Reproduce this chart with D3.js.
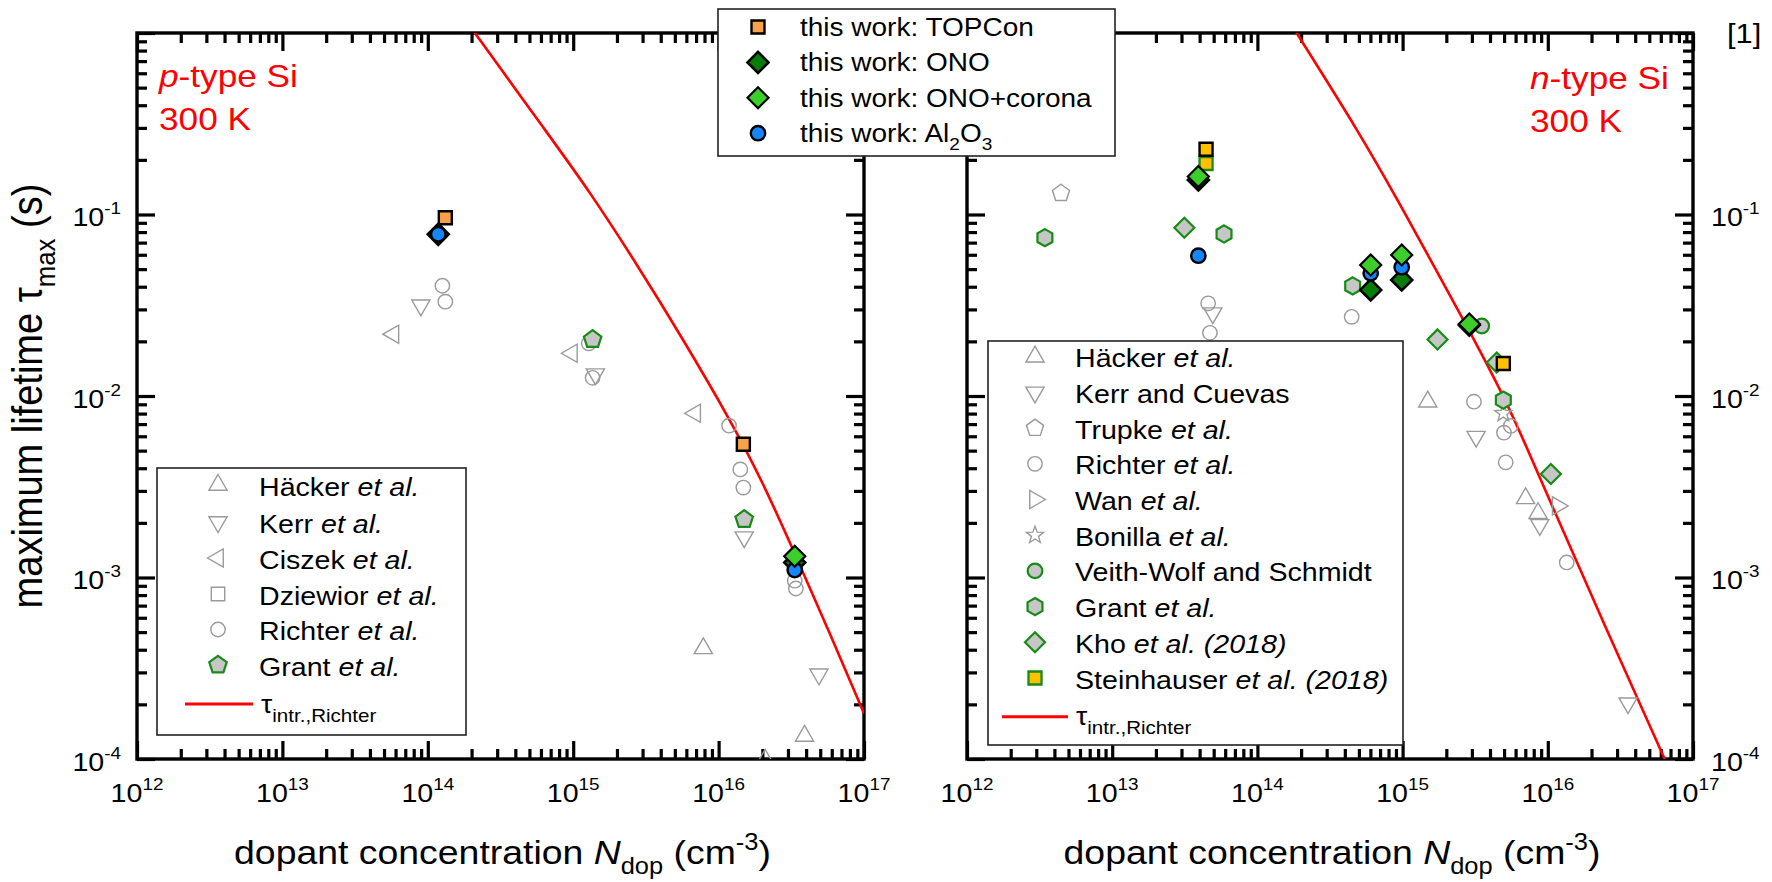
<!DOCTYPE html>
<html><head><meta charset="utf-8">
<script src="https://cdn.jsdelivr.net/npm/d3@7"></script>
<style>
html,body{margin:0;padding:0;background:#fff;}
svg{display:block;font-family:"Liberation Sans",Arial,Helvetica,sans-serif;}
</style></head><body>
<svg id="chart" width="1772" height="882"></svg>
<script>
// ---------- p-type Si, 300 K (left panel) ----------
const pHackerN   = [7.85e15, 3.90e16, 2.09e16];
const pHackerTau = [4.07e-4, 1.34e-4, 0.99e-4];
const pKerrN     = [8.96e13, 1.42e15, 1.50e16, 4.90e16];
const pKerrTau   = [0.0316, 0.0132, 0.00167, 2.93e-4];
const pCiszekN   = [5.80e13, 9.80e14, 6.90e15];
const pCiszekTau = [0.0219, 0.0172, 0.00803];
const pRichterN  = [1.26e14, 1.32e14, 1.28e15, 1.36e15, 1.18e16, 1.41e16, 1.48e16, 3.34e16, 3.40e16];
const pRichterTau= [0.0405, 0.0331, 0.0195, 0.0126, 0.00686, 0.00394, 0.00313, 0.00096, 0.00087];
const pGrantN    = [1.36e15, 1.50e16];
const pGrantTau  = [0.0205, 0.00209];
const pTopconN   = [1.32e14, 1.48e16];
const pTopconTau = [0.096, 0.00542];
const pOnoN      = [1.18e14, 3.34e16];
const pOnoTau    = [0.0778, 0.00121];
const pCoronaN   = [3.34e16];
const pCoronaTau = [0.00131];
const pAloxN     = [1.18e14, 3.34e16];
const pAloxTau   = [0.0778, 0.0011];
// intrinsic lifetime limit (Richter parameterisation), p-type
const pIntrN     = [2.0e14, 6.61e14, 1.29e15, 2.82e15, 5.62e15, 1.20e16, 2.0e16, 3.31e16, 5.62e16, 1.0e17];
const pIntrTau   = [1.06, 0.282, 0.135, 0.0513, 0.0209, 0.00741, 0.00339, 0.00138, 5.25e-4, 1.78e-4];

// ---------- n-type Si, 300 K (right panel) ----------
const nHackerN   = [1.49e15, 7.03e15, 8.57e15];
const nHackerTau = [0.0093, 0.00273, 0.00226];
const nKerrN     = [4.93e13, 3.21e15, 8.81e15, 3.57e16];
const nKerrTau   = [0.0286, 0.00597, 0.00195, 2.03e-4];
const nTrupkeN   = [4.44e12];
const nTrupkeTau = [0.131];
const nRichterN  = [4.58e13, 4.71e13, 4.46e14, 3.10e15, 5.56e15, 4.99e15, 5.13e15, 1.35e16];
const nRichterTau= [0.0324, 0.0223, 0.0273, 0.0093, 0.00684, 0.00628, 0.00431, 0.00121];
const nWanN      = [1.17e16];
const nWanTau    = [0.00248];
const nBonillaN  = [4.94e15];
const nBonillaTau= [0.00803];
const nVeithN    = [3.51e15];
const nVeithTau  = [0.0243];
const nGrantN    = [3.44e12, 5.89e13, 4.53e14, 4.94e15];
const nGrantTau  = [0.0745, 0.0781, 0.0404, 0.0095];
const nKhoN      = [3.14e13, 1.74e15, 4.45e15, 1.05e16];
const nKhoTau    = [0.0846, 0.0205, 0.0153, 0.00372];
const nSteinN    = [4.43e13];
const nSteinTau  = [0.191];
const nTopconN   = [4.43e13, 4.94e15];
const nTopconTau = [0.229, 0.0151];
const nOnoN      = [3.92e13, 6.03e14, 9.86e14, 2.88e15];
const nOnoTau    = [0.155, 0.0384, 0.0436, 0.0246];
const nCoronaN   = [3.92e13, 6.03e14, 9.86e14, 2.88e15];
const nCoronaTau = [0.162, 0.0527, 0.0598, 0.0249];
const nAloxN     = [3.92e13, 6.03e14, 9.86e14];
const nAloxTau   = [0.0593, 0.0474, 0.0512];
// intrinsic lifetime limit (Richter parameterisation), n-type
const nIntrN     = [1.82e14, 5.14e14, 9.25e14, 1.66e15, 2.88e15, 4.97e15, 7.23e15, 1.05e16, 2.48e16, 6.31e16, 7.08e16];
const nIntrTau   = [1.03, 0.275, 0.120, 0.0513, 0.0229, 0.0100, 0.00513, 0.00257, 5.37e-4, 1.02e-4, 8.3e-5];

// ---------- axes ----------
const xDecades = [1e12, 1e13, 1e14, 1e15, 1e16, 1e17];
const xExponents = ["12", "13", "14", "15", "16", "17"];
const yDecadesLabelled = [1e-1, 1e-2, 1e-3, 1e-4];
const yExponents = ["-1", "-2", "-3", "-4"];

// ---------- legend texts ----------
const topLegendLabels = [
  ["this work: TOPCon"],
  ["this work: ONO"],
  ["this work: ONO+corona"],
  ["this work: Al", {t:"2", sub:true}, "O", {t:"3", sub:true}]
];
const pLegendLabels = [
  ["Häcker ", {t:"et al.", it:true}],
  ["Kerr ", {t:"et al.", it:true}],
  ["Ciszek ", {t:"et al.", it:true}],
  ["Dziewior ", {t:"et al.", it:true}],
  ["Richter ", {t:"et al.", it:true}],
  ["Grant ", {t:"et al.", it:true}]
];
const nLegendLabels = [
  ["Häcker ", {t:"et al.", it:true}],
  ["Kerr and Cuevas"],
  ["Trupke ", {t:"et al.", it:true}],
  ["Richter ", {t:"et al.", it:true}],
  ["Wan ", {t:"et al.", it:true}],
  ["Bonilla ", {t:"et al.", it:true}],
  ["Veith-Wolf and Schmidt"],
  ["Grant ", {t:"et al.", it:true}],
  ["Kho ", {t:"et al. (2018)", it:true}],
  ["Steinhauser ", {t:"et al. (2018)", it:true}]
];

// ---------- drawing ----------
const SX = 1.1;                 // horizontal glyph stretch of the typeface
const svg = d3.select("#chart");
const yTop = 33, yBot = 759;
const y = d3.scaleLog().domain([1e-4, 1]).range([yBot, yTop]);
const xP = d3.scaleLog().domain([1e12, 1e17]).range([137, 864]);
const xN = d3.scaleLog().domain([1e12, 1e17]).range([967, 1693]);

function addText(parent, x, yy, parts, o) {
  const size = o.size, sx = o.sx ?? SX;
  let tr = `translate(${x},${yy})`;
  tr += o.rot ? ` rotate(${o.rot}) scale(1,${sx})` : ` scale(${sx},1)`;
  const t = parent.append("text").attr("transform", tr)
    .attr("font-size", size).attr("text-anchor", o.anchor || "start")
    .attr("fill", o.fill || "#000");
  let shift = 0;
  parts.forEach(p => {
    if (typeof p === "string") p = {t: p};
    const target = p.sub ? size * (o.subDy ?? 0.3) : p.sup ? -size * (o.supDy ?? 0.45) : 0;
    const ts = t.append("tspan").text(p.t).attr("dy", target - shift);
    shift = target;
    if (p.sub || p.sup) ts.attr("font-size", size * (o.small ?? 0.68));
    if (p.it) ts.attr("font-style", "italic");
  });
  return t;
}

// marker shapes as d3 symbol types (size = radius^2)
const poly = (n, rot) => ({draw(ctx, size) {
  const r = Math.sqrt(size);
  for (let i = 0; i < n; i++) {
    const a = rot + i * 2 * Math.PI / n;
    i ? ctx.lineTo(r * Math.cos(a), r * Math.sin(a)) : ctx.moveTo(r * Math.cos(a), r * Math.sin(a));
  }
  ctx.closePath();
}});
const ring = {draw(ctx, size) { const r = Math.sqrt(size); ctx.moveTo(r, 0); ctx.arc(0, 0, r, 0, 2 * Math.PI); ctx.closePath(); }};
const star = {draw(ctx, size) {
  const R = Math.sqrt(size), ri = R * 0.42;
  for (let i = 0; i < 10; i++) {
    const a = -Math.PI / 2 + i * Math.PI / 5, rr = i % 2 ? ri : R;
    i ? ctx.lineTo(rr * Math.cos(a), rr * Math.sin(a)) : ctx.moveTo(rr * Math.cos(a), rr * Math.sin(a));
  }
  ctx.closePath();
}};
const PI = Math.PI;
const shapes = {
  up: poly(3, -PI/2), down: poly(3, PI/2), left: poly(3, PI), right: poly(3, 0),
  square: poly(4, -PI/4), diamond: poly(4, -PI/2), pentagon: poly(5, -PI/2),
  hexagon: poly(6, -PI/2), circle: ring, star: star
};
const GRAY = "#9a9a9a", GREEN = "#168c16", GFILL = "#c6c6c6";
const styles = {
  hacker:  {shape:"up", r:10.5, fill:"none", stroke:GRAY, sw:1.4},
  kerr:    {shape:"down", r:10.5, fill:"none", stroke:GRAY, sw:1.4},
  ciszek:  {shape:"left", r:10.5, fill:"none", stroke:GRAY, sw:1.4},
  dziewior:{shape:"square", r:9.5, fill:"none", stroke:GRAY, sw:1.4},
  richter: {shape:"circle", r:7.2, fill:"none", stroke:GRAY, sw:1.4},
  trupke:  {shape:"pentagon", r:9, fill:"none", stroke:GRAY, sw:1.4},
  wan:     {shape:"right", r:10.5, fill:"none", stroke:GRAY, sw:1.4},
  bonilla: {shape:"star", r:9, fill:"none", stroke:GRAY, sw:1.4},
  grantP:  {shape:"pentagon", r:9.2, fill:GFILL, stroke:GREEN, sw:2.2},
  grantN:  {shape:"hexagon", r:8.6, fill:GFILL, stroke:GREEN, sw:2.2},
  veith:   {shape:"circle", r:7.3, fill:GFILL, stroke:GREEN, sw:2.2},
  kho:     {shape:"diamond", r:10, fill:GFILL, stroke:GREEN, sw:2.2},
  stein:   {shape:"square", r:9.2, fill:"#ffc000", stroke:GREEN, sw:2.3},
  topconP: {shape:"square", r:9.2, fill:"#f9a04b", stroke:"#000", sw:2.4},
  topconN: {shape:"square", r:9.2, fill:"#ffc000", stroke:"#000", sw:2.4},
  ono:     {shape:"diamond", r:10.5, fill:"#077d07", stroke:"#000", sw:2.6},
  corona:  {shape:"diamond", r:10.5, fill:"#3ccf2c", stroke:"#000", sw:2.2},
  alox:    {shape:"circle", r:7.2, fill:"#1586ff", stroke:"#000", sw:2.4}
};
function marker(g, st, cx, cy) {
  return g.append("path")
    .attr("transform", `translate(${cx},${cy})`)
    .attr("d", d3.symbol(shapes[st.shape], st.r * st.r)())
    .attr("fill", st.fill).attr("stroke", st.stroke).attr("stroke-width", st.sw)
    .attr("stroke-linejoin", "miter");
}
function series(g, x, Ns, Ts, st) {
  d3.zip(Ns, Ts).forEach(d => marker(g, st, x(d[0]), y(d[1])));
}

const isDecade = v => Math.abs(Math.log10(v) - Math.round(Math.log10(v))) < 1e-6;

function panel(id, x) {
  const [x0, x1] = x.range();
  const g = svg.append("g");
  g.append("clipPath").attr("id", "clip-" + id)
    .append("rect").attr("x", x0).attr("y", yTop).attr("width", x1 - x0).attr("height", yBot - yTop);

  const xMinor = x.ticks().filter(v => !isDecade(v));
  const yMinor = y.ticks().filter(v => !isDecade(v));
  const yMajor = y.ticks().filter(isDecade);
  const axes = [
    [d3.axisBottom(x), `translate(0,${yBot})`, xDecades, xMinor],
    [d3.axisTop(x), `translate(0,${yTop})`, xDecades, xMinor],
    [d3.axisLeft(y), `translate(${x0},0)`, yMajor, yMinor],
    [d3.axisRight(y), `translate(${x1},0)`, yMajor, yMinor]
  ];
  axes.forEach(([ax, tr, major, minor]) => {
    [[major, -18], [minor, -10]].forEach(([vals, len]) => {
      const a = g.append("g").attr("transform", tr)
        .call(ax.tickValues(vals).tickSize(len).tickSizeOuter(0).tickFormat(""));
      a.select(".domain").remove();
      a.selectAll(".tick line").attr("stroke", "#000").attr("stroke-width", 3.2);
    });
  });
  g.append("rect").attr("x", x0).attr("y", yTop).attr("width", x1 - x0).attr("height", yBot - yTop)
    .attr("fill", "none").attr("stroke", "#000").attr("stroke-width", 3.4);

  // tick labels
  xDecades.forEach((v, i) => addText(g, x(v), 802, ["10", {t: xExponents[i], sup: true}],
    {size: 26, anchor: "middle", supDy: 0.46, small: 0.66}));
  yDecadesLabelled.forEach((v, i) => {
    const lx = id === "p" ? x0 - 16 : x1 + 18;
    addText(g, lx, y(v) + 11.5, ["10", {t: yExponents[i], sup: true}],
      {size: 26, anchor: id === "p" ? "end" : "start", supDy: 0.46, small: 0.66});
  });

  // x axis title
  addText(g, (x0 + x1) / 2 + 2, 864, ["dopant concentration ", {t: "N", it: true}, {t: "dop", sub: true},
    " (cm", {t: "-3", sup: true}, ")"], {size: 34, anchor: "middle", subDy: 0.3, supDy: 0.42});

  const data = g.append("g").attr("clip-path", `url(#clip-${id})`);
  return data;
}

const intrLine = x => d3.line().x(d => x(d[0])).y(d => y(d[1])).curve(d3.curveBasis);

// ---------- left panel ----------
const gp = panel("p", xP);
gp.append("path").datum(d3.zip(pIntrN, pIntrTau)).attr("d", intrLine(xP))
  .attr("fill", "none").attr("stroke", "#ff0000").attr("stroke-width", 2.6);
series(gp, xP, pHackerN, pHackerTau, styles.hacker);
series(gp, xP, pKerrN, pKerrTau, styles.kerr);
series(gp, xP, pCiszekN, pCiszekTau, styles.ciszek);
series(gp, xP, pRichterN, pRichterTau, styles.richter);
series(gp, xP, pGrantN, pGrantTau, styles.grantP);
series(gp, xP, pOnoN, pOnoTau, styles.ono);
series(gp, xP, pAloxN, pAloxTau, styles.alox);
series(gp, xP, pCoronaN, pCoronaTau, styles.corona);
series(gp, xP, pTopconN, pTopconTau, styles.topconP);

// ---------- right panel ----------
const gn = panel("n", xN);
gn.append("path").datum(d3.zip(nIntrN, nIntrTau)).attr("d", intrLine(xN))
  .attr("fill", "none").attr("stroke", "#ff0000").attr("stroke-width", 2.6);
series(gn, xN, nHackerN, nHackerTau, styles.hacker);
series(gn, xN, nKerrN, nKerrTau, styles.kerr);
series(gn, xN, nTrupkeN, nTrupkeTau, styles.trupke);
series(gn, xN, nRichterN, nRichterTau, styles.richter);
series(gn, xN, nWanN, nWanTau, styles.wan);
series(gn, xN, nBonillaN, nBonillaTau, styles.bonilla);
series(gn, xN, nVeithN, nVeithTau, styles.veith);
series(gn, xN, nGrantN, nGrantTau, styles.grantN);
series(gn, xN, nKhoN, nKhoTau, styles.kho);
series(gn, xN, nSteinN, nSteinTau, styles.stein);
series(gn, xN, nOnoN, nOnoTau, styles.ono);
series(gn, xN, nAloxN, nAloxTau, styles.alox);
series(gn, xN, nCoronaN, nCoronaTau, styles.corona);
series(gn, xN, nTopconN, nTopconTau, styles.topconN);

// ---------- panel annotations ----------
addText(svg, 159, 87, [{t: "p", it: true}, "-type Si"], {size: 32, fill: "#ff0000"});
addText(svg, 159, 130, ["300 K"], {size: 32, fill: "#ff0000"});
addText(svg, 1530, 89, [{t: "n", it: true}, "-type Si"], {size: 32, fill: "#ff0000"});
addText(svg, 1530, 132, ["300 K"], {size: 32, fill: "#ff0000"});
addText(svg, 1727, 43, ["[1]"], {size: 28});

// y axis title
addText(svg, 42, 396, ["maximum lifetime τ", {t: "max", sub: true}, " (s)"],
  {size: 38, anchor: "middle", rot: -90, subDy: 0.3, small: 0.68});

// ---------- legends ----------
function legendBox(x0, y0, x1, y1) {
  svg.append("rect").attr("x", x0).attr("y", y0).attr("width", x1 - x0).attr("height", y1 - y0)
    .attr("fill", "#fff").attr("stroke", "#222").attr("stroke-width", 1.6);
}
function intrEntry(lx0, lx1, ly, tx, ty) {
  svg.append("line").attr("x1", lx0).attr("x2", lx1).attr("y1", ly).attr("y2", ly)
    .attr("stroke", "#ff0000").attr("stroke-width", 3);
  addText(svg, tx, ty, ["τ", {t: "intr.,Richter", sub: true}], {size: 26, subDy: 0.34, small: 0.72});
}

// left legend
legendBox(157, 468, 466, 735);
const pLegendStyles = [styles.hacker, styles.kerr, styles.ciszek, styles.dziewior, styles.richter, styles.grantP];
const pRows = [485, 522, 558, 594, 629.5, 665];
pLegendLabels.forEach((lab, i) => {
  marker(svg, pLegendStyles[i], 218, pRows[i]);
  addText(svg, 259, pRows[i] + 10.5, lab, {size: 26});
});
intrEntry(185, 253, 704, 261, 713);

// right legend
legendBox(988, 341, 1403, 745);
const nLegendStyles = [styles.hacker, styles.kerr, styles.trupke, styles.richter, styles.wan, styles.bonilla,
  styles.veith, styles.grantN, styles.kho, styles.stein];
nLegendLabels.forEach((lab, i) => {
  const ry = 356.7 + i * 35.7;
  marker(svg, nLegendStyles[i], 1035, ry);
  addText(svg, 1075, ry + 10.5, lab, {size: 26});
});
intrEntry(1002, 1068, 716.7, 1076, 725);

// top legend (this work)
legendBox(718, 9, 1115, 156);
const topStyles = [styles.topconP, styles.ono, styles.corona, styles.alox];
topLegendLabels.forEach((lab, i) => {
  const ry = 27 + i * 35.4;
  marker(svg, topStyles[i], 758, ry);
  addText(svg, 800, ry + 9, lab, {size: 25, sx: 1.12, subDy: 0.32});
});
</script>
</body></html>
